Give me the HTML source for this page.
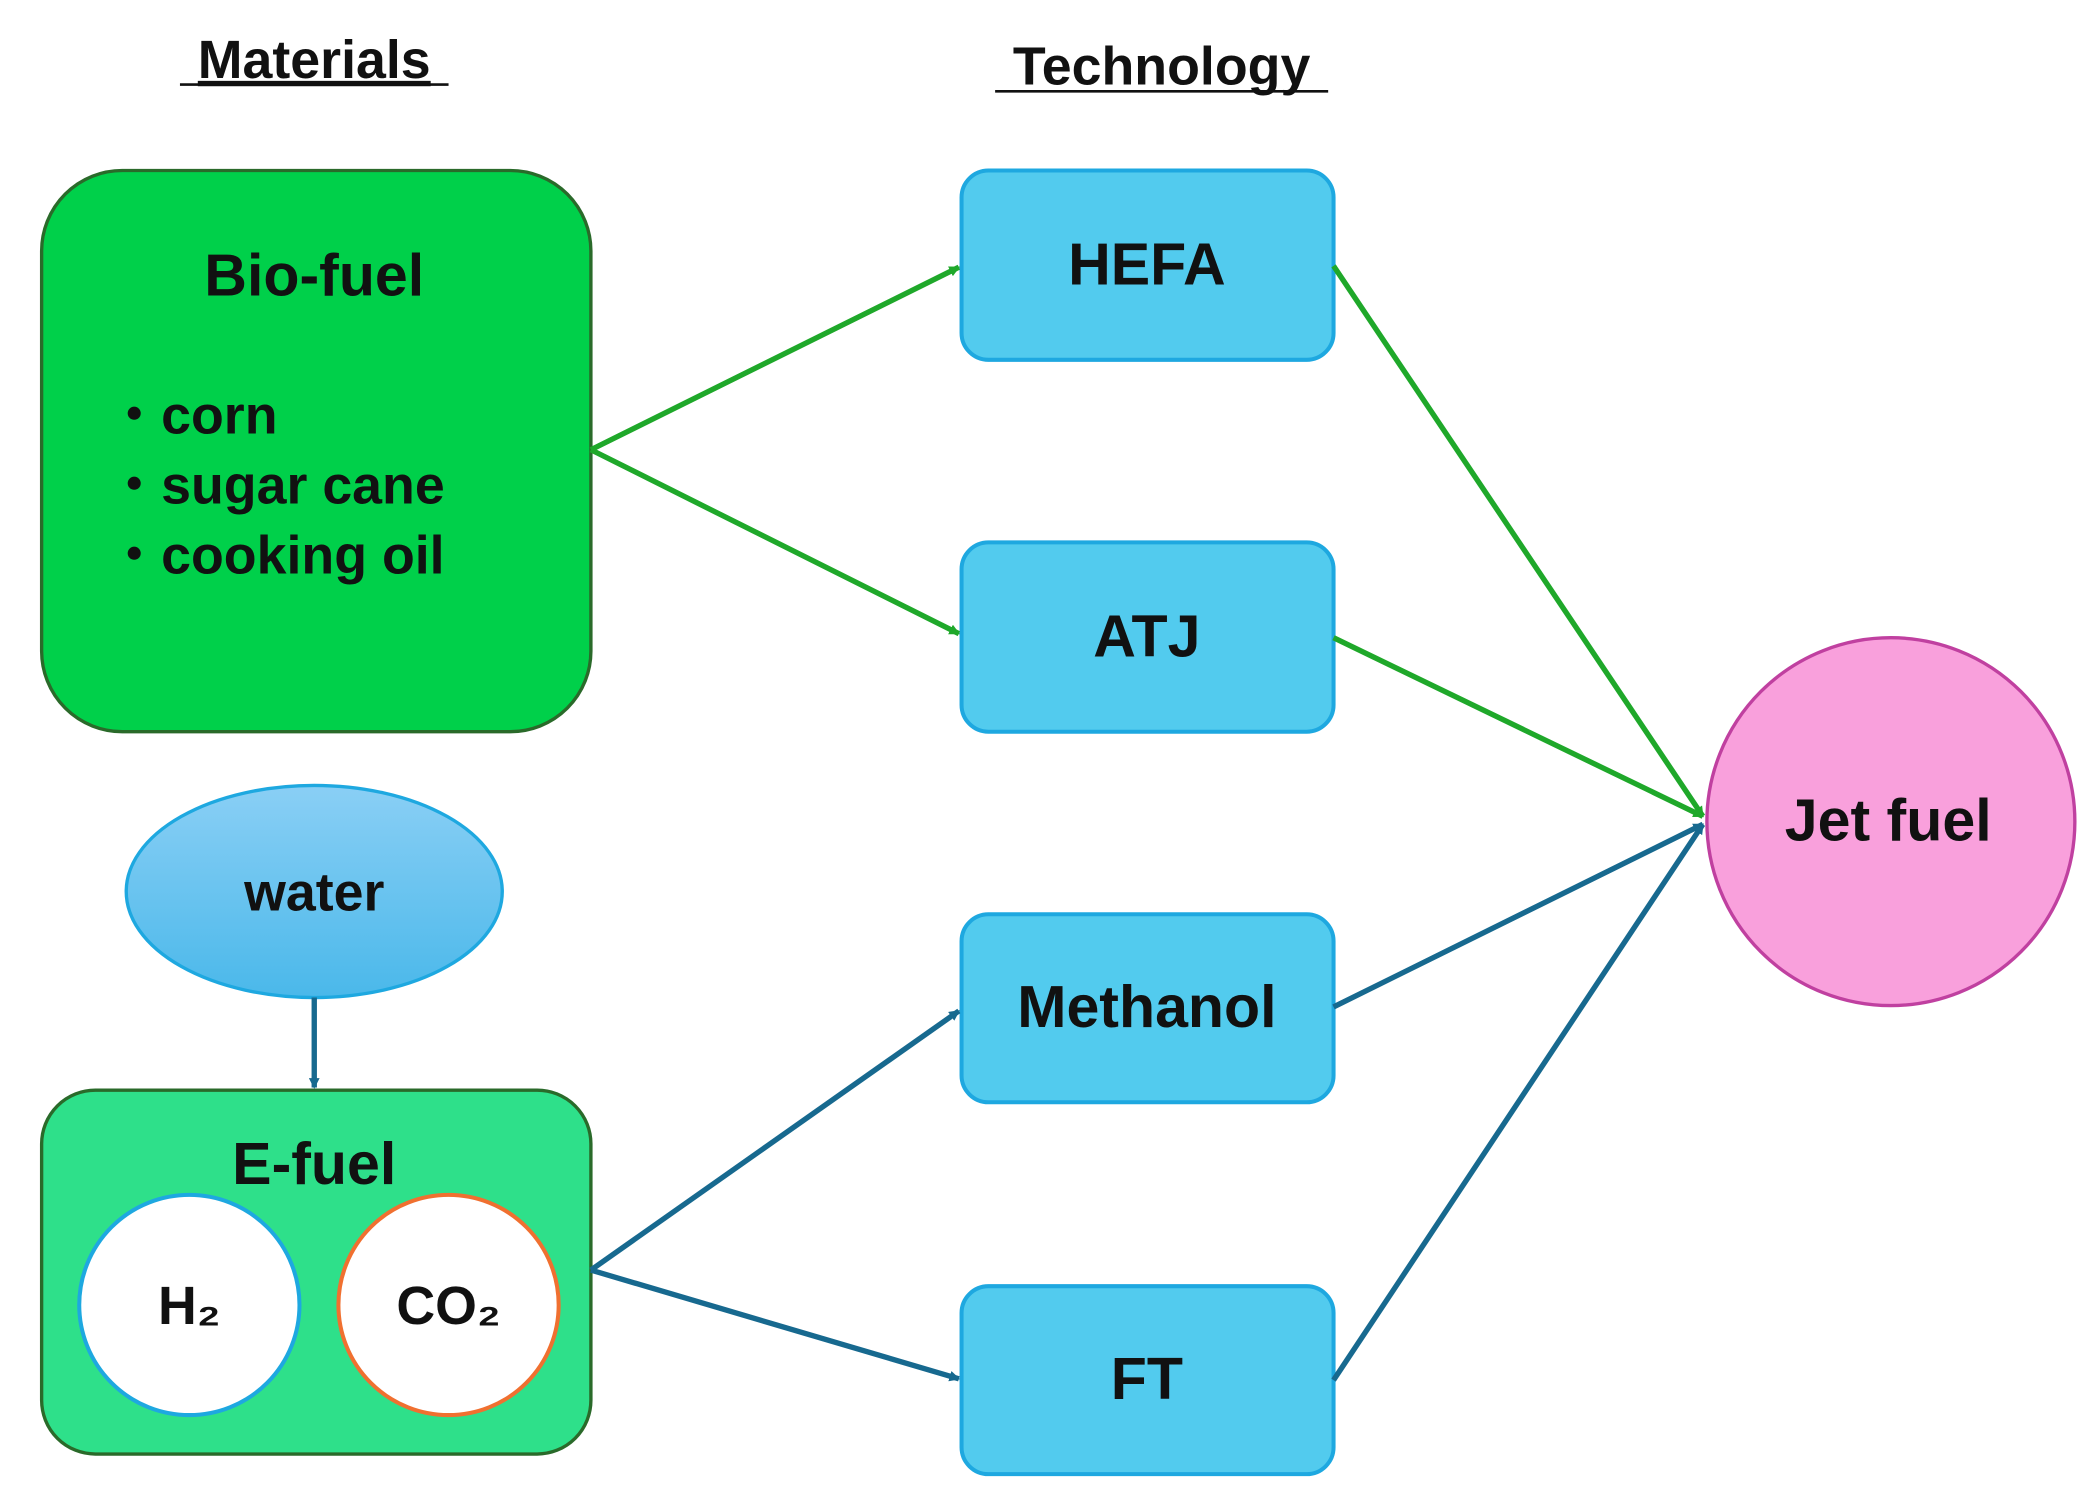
<!DOCTYPE html>
<html><head><meta charset="utf-8"><style>
html,body{margin:0;padding:0;background:#fff;}
svg{display:block;}
text{font-family:"Liberation Sans",sans-serif;font-weight:bold;fill:#111;}
</style></head><body>
<svg width="2095" height="1501" viewBox="0 0 1560 1118" preserveAspectRatio="none">
<defs>
<marker id="ag" markerWidth="8" markerHeight="8" refX="7" refY="4" orient="auto" markerUnits="userSpaceOnUse" viewBox="0 0 8 8"><path d="M0,0 L8,4 L0,8 Z" fill="#1fa82a"/></marker>
<marker id="ab" markerWidth="8" markerHeight="8" refX="7" refY="4" orient="auto" markerUnits="userSpaceOnUse" viewBox="0 0 8 8"><path d="M0,0 L8,4 L0,8 Z" fill="#17698f"/></marker>
<linearGradient id="wg" x1="0" y1="0" x2="0" y2="1"><stop offset="0" stop-color="#8acff5"/><stop offset="1" stop-color="#4ab8ea"/></linearGradient>
</defs>
<text x="234" y="58" font-size="40" text-anchor="middle" text-decoration="underline">Materials</text>
<line x1="134" y1="63" x2="334" y2="63" stroke="#111" stroke-width="2"/>
<text x="865" y="63" font-size="40" text-anchor="middle">Technology</text>
<line x1="741" y1="68" x2="989" y2="68" stroke="#111" stroke-width="2"/>

<rect x="31" y="127" width="409" height="418" rx="60" fill="#00d04a" stroke="#2a6a2a" stroke-width="2.5"/>
<text x="234" y="220" font-size="44" text-anchor="middle">Bio-fuel</text>
<text x="80" y="323" font-size="40">・corn</text>
<text x="80" y="375" font-size="40">・sugar cane</text>
<text x="80" y="427" font-size="40">・cooking oil</text>

<ellipse cx="234" cy="664" rx="140" ry="79" fill="url(#wg)" stroke="#1ea8e0" stroke-width="2.5"/>
<text x="234" y="678" font-size="40" text-anchor="middle">water</text>

<rect x="31" y="812" width="409" height="271" rx="40" fill="#2ee08a" stroke="#2a6a2a" stroke-width="2.5"/>
<text x="234" y="882" font-size="44" text-anchor="middle">E-fuel</text>
<circle cx="141" cy="972" r="82" fill="#fff" stroke="#1ea8e0" stroke-width="3"/>
<circle cx="334" cy="972" r="82" fill="#fff" stroke="#f07030" stroke-width="3"/>
<text x="141" y="986" font-size="40" text-anchor="middle">H₂</text>
<text x="334" y="986" font-size="40" text-anchor="middle">CO₂</text>

<g fill="#52cbee" stroke="#1ea8e0" stroke-width="3">
<rect x="716" y="127" width="277" height="141" rx="20"/>
<rect x="716" y="404" width="277" height="141" rx="20"/>
<rect x="716" y="681" width="277" height="140" rx="20"/>
<rect x="716" y="958" width="277" height="140" rx="20"/>
</g>
<text x="854" y="212" font-size="44" text-anchor="middle">HEFA</text>
<text x="854" y="489" font-size="44" text-anchor="middle">ATJ</text>
<text x="854" y="765" font-size="44" text-anchor="middle">Methanol</text>
<text x="854" y="1042" font-size="44" text-anchor="middle">FT</text>

<ellipse cx="1408" cy="612" rx="137" ry="137" fill="#f9a0dc" stroke="#c040a0" stroke-width="2.5"/>
<text x="1406" y="626" font-size="44" text-anchor="middle">Jet fuel</text>

<g stroke="#1fa82a" stroke-width="4" fill="none">
<line x1="440" y1="335" x2="714" y2="199" marker-end="url(#ag)"/>
<line x1="440" y1="335" x2="714" y2="472" marker-end="url(#ag)"/>
<line x1="993" y1="198" x2="1268" y2="608" marker-end="url(#ag)"/>
<line x1="993" y1="475" x2="1268" y2="608" marker-end="url(#ag)"/>
</g>
<g stroke="#17698f" stroke-width="4" fill="none">
<line x1="234" y1="743" x2="234" y2="810" marker-end="url(#ab)"/>
<line x1="440" y1="946" x2="714" y2="753" marker-end="url(#ab)"/>
<line x1="440" y1="946" x2="714" y2="1027" marker-end="url(#ab)"/>
<line x1="993" y1="750" x2="1268" y2="614" marker-end="url(#ab)"/>
<line x1="993" y1="1028" x2="1268" y2="614" marker-end="url(#ab)"/>
</g>
</svg>
</body></html>
